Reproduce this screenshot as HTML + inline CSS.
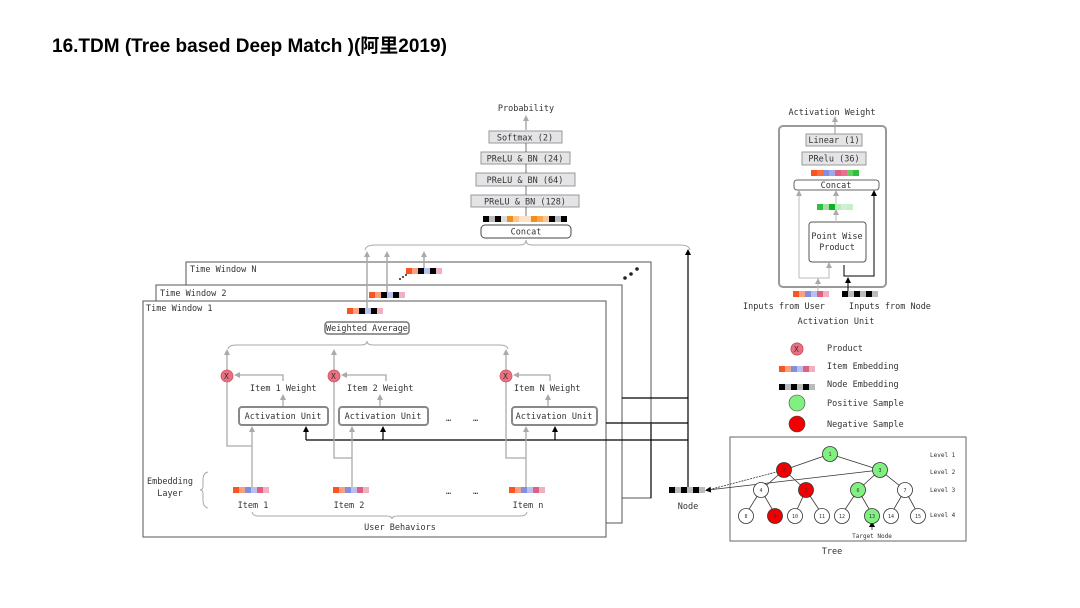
<!DOCTYPE html>
<html><head><meta charset="utf-8"><style>
html,body{margin:0;padding:0;background:#fff;}
svg{display:block;}
text{font-family:"DejaVu Sans Mono","Liberation Mono",monospace;fill:#333;}
.t{font-size:8.5px;}
</style></head><body>
<svg width="1080" height="608" viewBox="0 0 1080 608" xmlns="http://www.w3.org/2000/svg">
<defs>
<marker id="ag" markerWidth="6" markerHeight="6" refX="3" refY="3" orient="auto" markerUnits="userSpaceOnUse"><path d="M0,0 L6,3 L0,6 z" fill="#aaa"/></marker>
<marker id="ab" markerWidth="6" markerHeight="6" refX="3" refY="3" orient="auto" markerUnits="userSpaceOnUse"><path d="M0,0 L6,3 L0,6 z" fill="#000"/></marker>
<g id="ie"><rect x="0" y="0" width="6" height="6" fill="#f85520"/><rect x="6" y="0" width="6" height="6" fill="#f8a080"/><rect x="12" y="0" width="6" height="6" fill="#8090e0"/><rect x="18" y="0" width="6" height="6" fill="#b8c0f0"/><rect x="24" y="0" width="6" height="6" fill="#e06080"/><rect x="30" y="0" width="6" height="6" fill="#f0b0c0"/></g>
<g id="te"><rect x="0" y="0" width="6" height="6" fill="#f85520"/><rect x="6" y="0" width="6" height="6" fill="#f8a080"/><rect x="12" y="0" width="6" height="6" fill="#000"/><rect x="18" y="0" width="6" height="6" fill="#b8c0f0"/><rect x="24" y="0" width="6" height="6" fill="#000"/><rect x="30" y="0" width="6" height="6" fill="#f0b0c0"/></g>
<g id="ne"><rect x="0" y="0" width="6" height="6" fill="#000"/><rect x="6" y="0" width="6" height="6" fill="#bbb"/><rect x="12" y="0" width="6" height="6" fill="#000"/><rect x="18" y="0" width="6" height="6" fill="#bbb"/><rect x="24" y="0" width="6" height="6" fill="#000"/><rect x="30" y="0" width="6" height="6" fill="#bbb"/></g>
</defs>

<text x="52" y="52" style="font-family:'Liberation Sans','Noto Sans CJK SC',sans-serif;font-size:19px;font-weight:bold;fill:#000">16.TDM (Tree based Deep Match )(阿里2019)</text>

<!-- top stack -->
<text x="526" y="111" class="t" text-anchor="middle">Probability</text>
<line x1="526" y1="130" x2="526" y2="118" stroke="#aaa" stroke-width="1.5" marker-end="url(#ag)"/>
<g stroke="#999" fill="#e4e4e6" stroke-width="1">
<rect x="489" y="131" width="73" height="12"/>
<rect x="481" y="152" width="89" height="12"/>
<rect x="476" y="173" width="99" height="13"/>
<rect x="471" y="195" width="108" height="12"/>
</g>
<g stroke="#555" stroke-width="0.8"><line x1="526" y1="143" x2="526" y2="152"/><line x1="526" y1="164" x2="526" y2="173"/><line x1="526" y1="186" x2="526" y2="195"/><line x1="526" y1="207" x2="526" y2="216"/></g>
<text x="525" y="140.5" class="t" text-anchor="middle">Softmax (2)</text>
<text x="525" y="161.5" class="t" text-anchor="middle">PReLU &amp; BN (24)</text>
<text x="525" y="183" class="t" text-anchor="middle">PReLU &amp; BN (64)</text>
<text x="525" y="204.5" class="t" text-anchor="middle">PReLU &amp; BN (128)</text>
<g>
<rect x="483" y="216" width="6" height="6" fill="#000"/><rect x="489" y="216" width="6" height="6" fill="#bbb"/><rect x="495" y="216" width="6" height="6" fill="#000"/><rect x="501" y="216" width="6" height="6" fill="#ddd"/><rect x="507" y="216" width="6" height="6" fill="#f0901a"/><rect x="513" y="216" width="6" height="6" fill="#f8c890"/><rect x="519" y="216" width="6" height="6" fill="#fbe2c8"/><rect x="525" y="216" width="6" height="6" fill="#fbe2c8"/><rect x="531" y="216" width="6" height="6" fill="#f0901a"/><rect x="537" y="216" width="6" height="6" fill="#f4a850"/><rect x="543" y="216" width="6" height="6" fill="#f8c890"/><rect x="549" y="216" width="6" height="6" fill="#000"/><rect x="555" y="216" width="6" height="6" fill="#bbb"/><rect x="561" y="216" width="6" height="6" fill="#000"/>
</g>
<rect x="481" y="225" width="90" height="13" rx="4" fill="#fff" stroke="#444"/>
<text x="526" y="234.5" class="t" text-anchor="middle">Concat</text>
<path d="M365,250 Q366,245 375,245 L520,245 Q526,245 526,240 Q526,245 532,245 L680,245 Q689,245 690,250" fill="none" stroke="#aaa"/>

<!-- time windows -->
<rect x="186" y="262" width="465" height="236" fill="#fff" stroke="#555"/>
<text x="190" y="272" class="t">Time Window N</text>
<rect x="156" y="285" width="466" height="238" fill="#fff" stroke="#555"/>
<text x="160" y="296" class="t">Time Window 2</text>
<rect x="143" y="301" width="463" height="236" fill="#fff" stroke="#555"/>
<text x="146" y="311" class="t">Time Window 1</text>
<use href="#te" x="406" y="268"/>
<use href="#te" x="369" y="292"/>
<use href="#te" x="347" y="308"/>
<g fill="#222"><circle cx="400" cy="279" r="1"/><circle cx="403" cy="277" r="1"/><circle cx="406" cy="275" r="1"/>
<circle cx="625" cy="278" r="1.8"/><circle cx="631" cy="274" r="1.8"/><circle cx="637" cy="269" r="1.8"/></g>
<g stroke="#aaa" stroke-width="1.5">
<line x1="367" y1="308" x2="367" y2="254" marker-end="url(#ag)"/>
<line x1="387" y1="292" x2="387" y2="254" marker-end="url(#ag)"/>
<line x1="424" y1="268" x2="424" y2="254" marker-end="url(#ag)"/>
</g>

<!-- right connector lines -->
<g stroke="#000" stroke-width="1.2" fill="none">
<line x1="688" y1="487" x2="688" y2="252" marker-end="url(#ab)"/>
<polyline points="622,398 688,398"/>
<polyline points="606,423 688,423"/>
<line x1="651" y1="424" x2="651" y2="498"/>
<polyline points="688,440 306,440"/>
<line x1="306" y1="440" x2="306" y2="429" marker-end="url(#ab)"/>
<line x1="383" y1="440" x2="383" y2="429" marker-end="url(#ab)"/>
<line x1="555" y1="440" x2="555" y2="429" marker-end="url(#ab)"/>
</g>

<!-- Weighted average -->
<rect x="325" y="322" width="84" height="12" rx="3" fill="#fff" stroke="#777" stroke-width="1.5"/>
<text x="367" y="331" class="t" text-anchor="middle">Weighted Average</text>
<path d="M228,349 Q229,345 236,345 L361,345 Q367,345 367,341 Q367,345 373,345 L500,345 Q507,345 508,349" fill="none" stroke="#aaa"/>

<!-- gray lines -->
<g stroke="#aaa" stroke-width="1.3" fill="none">
<line x1="227" y1="370" x2="227" y2="352" marker-end="url(#ag)"/>
<line x1="334" y1="370" x2="334" y2="352" marker-end="url(#ag)"/>
<line x1="506" y1="370" x2="506" y2="352" marker-end="url(#ag)"/>
<polyline points="227,382 227,446 252,446"/>
<polyline points="334,382 334,458 352,458"/>
<polyline points="506,382 506,458 526,458"/>
<line x1="252" y1="487" x2="252" y2="429" marker-end="url(#ag)"/>
<line x1="352" y1="487" x2="352" y2="429" marker-end="url(#ag)"/>
<line x1="526" y1="487" x2="526" y2="429" marker-end="url(#ag)"/>
<polyline points="283,381 283,375 237,375" marker-end="url(#ag)"/>
<polyline points="386,381 386,375 344,375" marker-end="url(#ag)"/>
<polyline points="550,381 550,375 516,375" marker-end="url(#ag)"/>
<line x1="283" y1="407" x2="283" y2="397" marker-end="url(#ag)"/>
<line x1="380" y1="407" x2="380" y2="397" marker-end="url(#ag)"/>
<line x1="548" y1="407" x2="548" y2="397" marker-end="url(#ag)"/>
</g>
<g fill="#e87080" stroke="#d05060" stroke-width="0.8">
<circle cx="227" cy="376" r="6"/><circle cx="334" cy="376" r="6"/><circle cx="506" cy="376" r="6"/></g>
<g class="t" style="font-size:8px"><text x="224" y="379">X</text><text x="331" y="379">X</text><text x="503" y="379">X</text></g>
<text x="250" y="391" class="t">Item 1 Weight</text>
<text x="347" y="391" class="t">Item 2 Weight</text>
<text x="514" y="391" class="t">Item N Weight</text>
<g fill="#fff" stroke="#888" stroke-width="2">
<rect x="239" y="407" width="89" height="18" rx="3"/>
<rect x="339" y="407" width="89" height="18" rx="3"/>
<rect x="512" y="407" width="85" height="18" rx="3"/>
</g>
<text x="283" y="419" class="t" text-anchor="middle">Activation Unit</text>
<text x="383" y="419" class="t" text-anchor="middle">Activation Unit</text>
<text x="554" y="419" class="t" text-anchor="middle">Activation Unit</text>
<text x="446" y="421" class="t">…</text><text x="473" y="421" class="t">…</text>

<use href="#ie" x="233" y="487"/><use href="#ie" x="333" y="487"/><use href="#ie" x="509" y="487"/>
<text x="446" y="494" class="t">…</text><text x="473" y="494" class="t">…</text>
<text x="170" y="484" class="t" text-anchor="middle">Embedding</text>
<text x="170" y="496" class="t" text-anchor="middle">Layer</text>
<path d="M208,472 Q203,473 203,480 L203,486 Q203,490 200,490 Q203,490 203,494 L203,500 Q203,507 208,508" fill="none" stroke="#aaa"/>
<text x="253" y="508" class="t" text-anchor="middle">Item 1</text>
<text x="349" y="508" class="t" text-anchor="middle">Item 2</text>
<text x="528" y="508" class="t" text-anchor="middle">Item n</text>
<path d="M252,512 Q253,516 258,516 L386,516 Q392,516 392,519 Q392,516 398,516 L520,516 Q526,516 527,512" fill="none" stroke="#aaa"/>
<text x="400" y="530" class="t" text-anchor="middle">User Behaviors</text>

<!-- node -->
<use href="#ne" x="669" y="487"/>
<text x="688" y="509" class="t" text-anchor="middle">Node</text>

<!-- Activation unit panel -->
<text x="832" y="115" class="t" text-anchor="middle">Activation Weight</text>
<rect x="779" y="126" width="107" height="161" rx="4" fill="#fff" stroke="#999" stroke-width="2"/>
<line x1="835" y1="134" x2="835" y2="119" stroke="#999" marker-end="url(#ag)"/>
<rect x="806" y="134" width="56" height="12" fill="#e4e4e6" stroke="#999"/>
<text x="834" y="143" class="t" text-anchor="middle">Linear (1)</text>
<rect x="802" y="152" width="64" height="13" fill="#e4e4e6" stroke="#999"/>
<text x="834" y="161.5" class="t" text-anchor="middle">PRelu (36)</text>
<g><rect x="811" y="170" width="6" height="6" fill="#f85520"/><rect x="817" y="170" width="6" height="6" fill="#f87040"/><rect x="823" y="170" width="6" height="6" fill="#8090e0"/><rect x="829" y="170" width="6" height="6" fill="#a0a8e8"/><rect x="835" y="170" width="6" height="6" fill="#e06080"/><rect x="841" y="170" width="6" height="6" fill="#e87090"/><rect x="847" y="170" width="6" height="6" fill="#60d060"/><rect x="853" y="170" width="6" height="6" fill="#30c040"/></g>
<rect x="794" y="180" width="85" height="10" rx="3" fill="#fff" stroke="#666"/>
<text x="836" y="188" class="t" text-anchor="middle">Concat</text>
<g><rect x="817" y="204" width="6" height="6" fill="#30c040"/><rect x="823" y="204" width="6" height="6" fill="#a0e0a0"/><rect x="829" y="204" width="6" height="6" fill="#10b020"/><rect x="835" y="204" width="6" height="6" fill="#b8ecb8"/><rect x="841" y="204" width="6" height="6" fill="#d0f0d0"/><rect x="847" y="204" width="6" height="6" fill="#c8eec8"/></g>
<rect x="809" y="222" width="57" height="40" rx="3" fill="#fff" stroke="#555"/>
<text x="837" y="239" class="t" text-anchor="middle">Point Wise</text>
<text x="837" y="250" class="t" text-anchor="middle">Product</text>
<g stroke="#bbb" fill="none">
<line x1="836" y1="222" x2="836" y2="212" marker-end="url(#ag)"/>
<line x1="836" y1="204" x2="836" y2="193" marker-end="url(#ag)"/>
<polyline points="799,278 799,193" marker-end="url(#ag)"/>
<polyline points="799,278 829,278 829,265" marker-end="url(#ag)"/>
<line x1="818" y1="291" x2="818" y2="281" marker-end="url(#ag)"/>
</g>
<g stroke="#000" fill="none">
<polyline points="844,265 844,276 874,276 874,193" marker-end="url(#ab)"/>
<line x1="848" y1="291" x2="848" y2="280" marker-end="url(#ab)"/>
</g>
<use href="#ie" x="793" y="291"/><use href="#ne" x="842" y="291"/>
<text x="784" y="309" class="t" text-anchor="middle">Inputs from User</text>
<text x="890" y="309" class="t" text-anchor="middle">Inputs from Node</text>
<text x="836" y="324" class="t" text-anchor="middle">Activation Unit</text>

<!-- legend -->
<circle cx="797" cy="349" r="6" fill="#e87080" stroke="#d05060"/>
<text x="794" y="352" class="t" style="font-size:8px">X</text>
<text x="827" y="351" class="t">Product</text>
<use href="#ie" x="779" y="366"/><text x="827" y="369" class="t">Item Embedding</text>
<use href="#ne" x="779" y="384"/><text x="827" y="387" class="t">Node Embedding</text>
<circle cx="797" cy="403" r="8" fill="#80f080" stroke="#444" stroke-width="0.6"/><text x="827" y="406" class="t">Positive Sample</text>
<circle cx="797" cy="424" r="8" fill="#f00000" stroke="#444" stroke-width="0.6"/><text x="827" y="427" class="t">Negative Sample</text>

<!-- tree -->
<rect x="730" y="437" width="236" height="104" fill="#fff" stroke="#666"/>
<g stroke="#333" stroke-width="0.8">
<line x1="830" y1="454" x2="784" y2="470"/><line x1="830" y1="454" x2="880" y2="470"/>
<line x1="784" y1="470" x2="761" y2="490"/><line x1="784" y1="470" x2="806" y2="490"/>
<line x1="880" y1="470" x2="858" y2="490"/><line x1="880" y1="470" x2="905" y2="490"/>
<line x1="761" y1="490" x2="746" y2="514"/><line x1="761" y1="490" x2="775" y2="514"/>
<line x1="806" y1="490" x2="795" y2="514"/><line x1="806" y1="490" x2="822" y2="514"/>
<line x1="858" y1="490" x2="842" y2="514"/><line x1="858" y1="490" x2="872" y2="514"/>
<line x1="905" y1="490" x2="891" y2="514"/><line x1="905" y1="490" x2="918" y2="514"/>
<line x1="880" y1="470" x2="708" y2="490" marker-end="url(#ab)"/>
<line x1="784" y1="470" x2="708" y2="490" stroke-dasharray="2,1"/>
<line x1="872" y1="530" x2="872" y2="524" marker-end="url(#ab)"/>
</g>
<g stroke="#333" stroke-width="0.8">
<circle cx="830" cy="454" r="7.5" fill="#80f080"/>
<circle cx="784" cy="470" r="7.5" fill="#f00000"/><circle cx="880" cy="470" r="7.5" fill="#80f080"/>
<circle cx="761" cy="490" r="7.5" fill="#fff"/><circle cx="806" cy="490" r="7.5" fill="#f00000"/><circle cx="858" cy="490" r="7.5" fill="#80f080"/><circle cx="905" cy="490" r="7.5" fill="#fff"/>
<circle cx="746" cy="516" r="7.5" fill="#fff"/><circle cx="775" cy="516" r="7.5" fill="#f00000"/><circle cx="795" cy="516" r="7.5" fill="#fff"/><circle cx="822" cy="516" r="7.5" fill="#fff"/><circle cx="842" cy="516" r="7.5" fill="#fff"/><circle cx="872" cy="516" r="7.5" fill="#80f080"/><circle cx="891" cy="516" r="7.5" fill="#fff"/><circle cx="918" cy="516" r="7.5" fill="#fff"/>
</g>
<g style="font-size:5px" text-anchor="middle">
<text x="830" y="456">1</text><text x="784" y="472">2</text><text x="880" y="472">3</text>
<text x="761" y="492">4</text><text x="806" y="492">5</text><text x="858" y="492">6</text><text x="905" y="492">7</text>
<text x="746" y="518">8</text><text x="775" y="518">9</text><text x="795" y="518">10</text><text x="822" y="518">11</text><text x="842" y="518">12</text><text x="872" y="518">13</text><text x="891" y="518">14</text><text x="918" y="518">15</text>
</g>
<g style="font-size:6px"><text x="930" y="457">Level 1</text><text x="930" y="474">Level 2</text><text x="930" y="492">Level 3</text><text x="930" y="517">Level 4</text></g>
<text x="872" y="538" style="font-size:6px" text-anchor="middle">Target Node</text>
<text x="832" y="554" class="t" text-anchor="middle">Tree</text>
</svg>
</body></html>
